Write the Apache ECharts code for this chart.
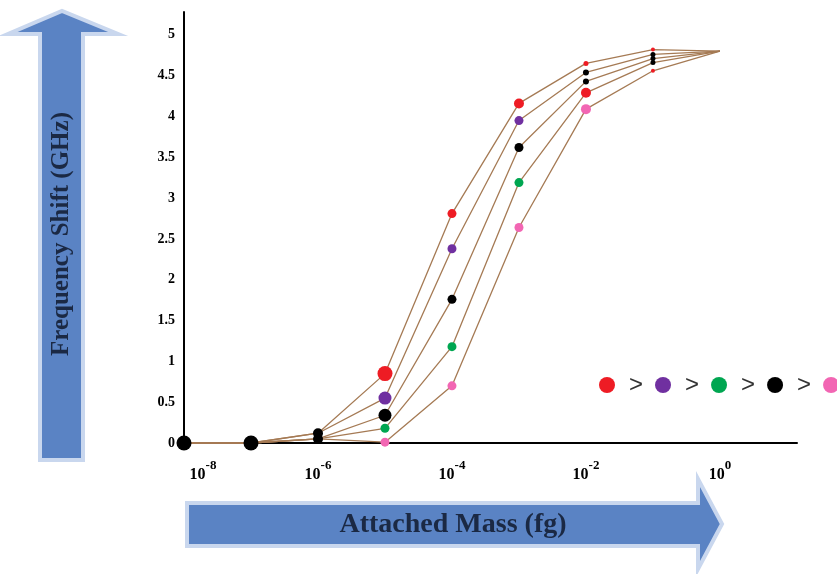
<!DOCTYPE html>
<html>
<head>
<meta charset="utf-8">
<script src="https://cdn.jsdelivr.net/npm/echarts@6/dist/echarts.min.js"></script>
<style>
  html, body { margin: 0; padding: 0; background: #fff; }
  #chart { width: 837px; height: 574px; }
</style>
</head>
<body>
<div id="chart"></div>
<script>
// x = exponent of the attached mass (10^x fg)
var exps = [-8, -7, -6, -5, -4, -3, -2, -1, 0];

// frequency shift (GHz) for each curve
var redVals    = [0, 0, 0.12, 0.85, 2.81, 4.16, 4.65, 4.82, 4.80];
var purpleVals = [0, 0, 0.12, 0.55, 2.38, 3.95, 4.54, 4.76, 4.80];
var blackVals  = [0, 0, 0.05, 0.34, 1.76, 3.62, 4.43, 4.71, 4.80];
var greenVals  = [0, 0, 0.05, 0.18, 1.18, 3.19, 4.29, 4.66, 4.80];
var pinkVals   = [0, 0, 0.05, 0.01, 0.70, 2.64, 4.09, 4.56, 4.80];

var RED = "#ee1c24", PURPLE = "#7030a0", GREEN = "#00a651", BLACK = "#000000", PINK = "#f266b3";
var LINE = "#a57a54";

// marker colours / sizes (the original figure mixes colours at the top end)
var redMark    = { c: [BLACK, BLACK, BLACK, RED, RED, RED, RED, RED, RED],       s: [0, 0, 10, 15, 9, 10, 5, 4, 0] };
var purpleMark = { c: [BLACK, BLACK, BLACK, PURPLE, PURPLE, PURPLE, BLACK, BLACK, PURPLE], s: [0, 0, 0, 13, 9, 9, 6, 5, 0] };
var blackMark  = { c: [BLACK, BLACK, BLACK, BLACK, BLACK, BLACK, BLACK, BLACK, BLACK], s: [15, 15, 10, 13, 9, 9, 6, 5, 0] };
var greenMark  = { c: [BLACK, BLACK, GREEN, GREEN, GREEN, GREEN, RED, BLACK, GREEN], s: [0, 0, 0, 9, 9, 9, 10, 5, 0] };
var pinkMark   = { c: [BLACK, BLACK, PINK, PINK, PINK, PINK, PINK, RED, PINK],    s: [0, 0, 0, 9, 9, 9, 10, 4, 0] };

function points(vals, mark) {
  return vals.map(function (v, i) {
    return { value: [exps[i], v], symbolSize: mark.s[i], itemStyle: { color: mark.c[i] } };
  });
}

function curve(name, color, vals, mark, z) {
  return {
    name: name,
    type: "line",
    z: z,
    symbol: "circle",
    showAllSymbol: true,
    clip: false,
    color: color,
    lineStyle: { color: LINE, width: 1.3 },
    itemStyle: { color: color },
    data: points(vals, mark)
  };
}

var myChart = echarts.init(document.getElementById("chart"));

var option = {
  backgroundColor: "#ffffff",
  animation: false,
  grid: { left: 184, top: 12, right: 40, bottom: 131 },
  legend: {
    data: ["red", "purple", "green", "black", "pink"],
    icon: "circle",
    left: 599,
    top: 373,
    width: 400,
    padding: 0,
    itemWidth: 16,
    itemHeight: 16,
    itemGap: 12,
    formatter: function (name) { return name === "pink" ? "" : ">"; },
    textStyle: { fontFamily: "Liberation Sans", fontSize: 24, color: "#333", padding: [0, 0, 0, 9] }
  },
  xAxis: {
    type: "value",
    min: -8,
    max: 1.15,
    interval: 2,
    splitLine: { show: false },
    axisTick: { show: false },
    axisLine: { lineStyle: { color: "#000", width: 2 } },
    axisLabel: {
      showMaxLabel: false,
      margin: 14,
      formatter: function (v) {
        var pre = v === -8 ? "{pad| }" : "";
        return pre + "{b|10}{s|" + v + "}";
      },
      rich: {
        pad: { width: 38 },
        b: { fontFamily: "Liberation Serif", fontWeight: "bold", fontSize: 16, color: "#000", padding: [10, 0, 0, 0] },
        s: { fontFamily: "Liberation Serif", fontWeight: "bold", fontSize: 13, color: "#000", padding: [0, 0, 8, 0] }
      }
    }
  },
  yAxis: {
    type: "value",
    min: 0,
    max: 5.28,
    interval: 0.5,
    splitLine: { show: false },
    axisTick: { show: false },
    axisLine: { onZero: false, lineStyle: { color: "#000", width: 2 } },
    axisLabel: {
      showMaxLabel: false,
      margin: 9,
      color: "#000",
      fontFamily: "Liberation Serif",
      fontWeight: "bold",
      fontSize: 14
    }
  },
  graphic: [
    {
      type: "polygon",
      z: -1,
      shape: { points: [[40, 460], [40, 34], [8, 34], [62, 11], [118, 34], [83, 34], [83, 460]] },
      style: { fill: "#5a83c4", stroke: "#c9d7ee", lineWidth: 4 }
    },
    {
      type: "text",
      x: 62,
      y: 234,
      rotation: Math.PI / 2,
      style: {
        text: "Frequency Shift (GHz)",
        align: "center",
        verticalAlign: "middle",
        font: "bold 25px 'Liberation Serif'",
        fill: "#1b2944"
      }
    },
    {
      type: "polygon",
      z: -1,
      shape: { points: [[187, 503], [698, 503], [698, 479], [722, 524], [698, 569], [698, 546], [187, 546]] },
      style: { fill: "#5a83c4", stroke: "#c9d7ee", lineWidth: 4 }
    },
    {
      type: "text",
      x: 453,
      y: 525,
      style: {
        text: "Attached Mass (fg)",
        align: "center",
        verticalAlign: "middle",
        font: "bold 28px 'Liberation Serif'",
        fill: "#1b2944"
      }
    }
  ],
  series: [
    curve("pink", PINK, pinkVals, pinkMark, 2),
    curve("green", GREEN, greenVals, greenMark, 3),
    curve("purple", PURPLE, purpleVals, purpleMark, 4),
    curve("red", RED, redVals, redMark, 5),
    curve("black", BLACK, blackVals, blackMark, 6)
  ]
};

myChart.setOption(option);
window.addEventListener("resize", myChart.resize);
</script>
</body>
</html>
